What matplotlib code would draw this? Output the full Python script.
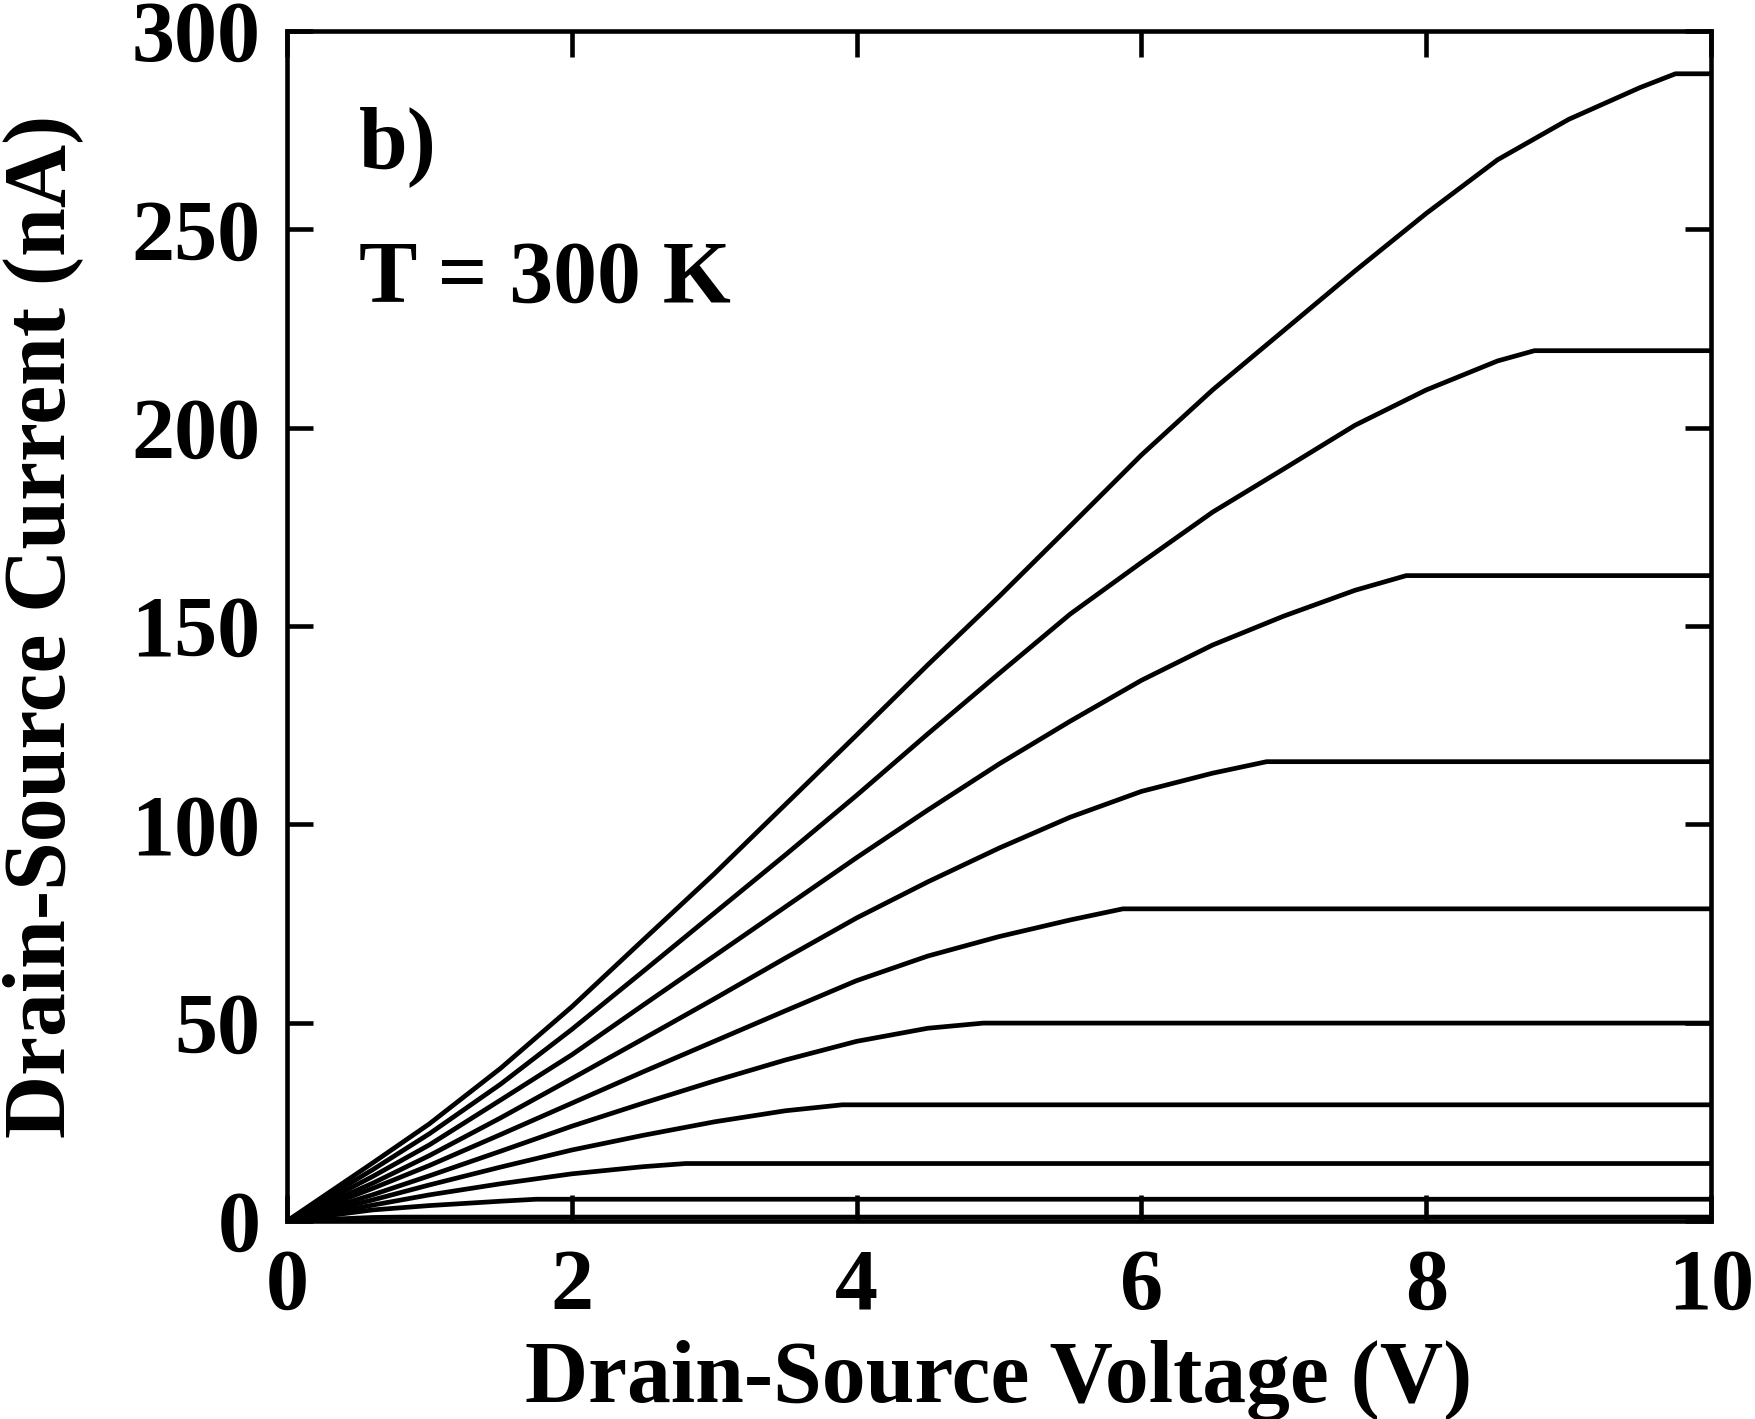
import matplotlib
matplotlib.use("Agg")
import matplotlib.pyplot as plt

# Times-like bold serif throughout
plt.rcParams['font.family'] = ['Liberation Serif', 'DejaVu Serif']
plt.rcParams['font.weight'] = 'bold'

# drain-source voltage grid (V) used below saturation
vds = [0, 0.6, 1.0, 1.5, 2.0, 2.5, 3.0, 3.5, 4.0, 4.5, 5.0, 5.5, 6.0, 6.5, 7.0, 7.5, 8.0, 8.5, 9.0, 9.5]

# drain-source current (nA) read on the grid, top curve first
ids_1 = [0, 14.6, 24.5, 38.5, 54.0, 70.8, 87.5, 105.0, 122.5, 140.2, 157.4, 175.2, 193.1, 209.5, 224.5, 239.5, 254.0, 267.5, 277.7, 285.7]
ids_2 = [0, 12.9, 22.0, 34.5, 48.3, 62.9, 77.6, 92.3, 107.3, 122.8, 138.0, 153.0, 166.0, 178.7, 189.6, 200.6, 209.5, 216.8]
ids_3 = [0, 11.2, 19.2, 30.5, 41.9, 54.4, 66.8, 79.2, 91.6, 103.6, 115.2, 126.0, 136.3, 145.2, 152.5, 159.0]
ids_4 = [0, 9.5, 16.5, 26.0, 35.9, 45.9, 56.0, 66.3, 76.4, 85.5, 94.0, 101.8, 108.3, 112.9]
ids_5 = [0, 8.2, 14.0, 21.8, 29.7, 37.6, 45.3, 53.0, 60.6, 66.8, 71.7, 75.9]
ids_6 = [0, 6.6, 11.4, 17.6, 23.9, 29.7, 35.3, 40.6, 45.3, 48.6]
ids_7 = [0, 5.3, 9.1, 13.6, 17.9, 21.6, 25.0, 27.8]
ids_8 = [0, 4.0, 6.6, 9.4, 11.9, 13.7]
ids_9 = [0, 2.8, 3.9, 5.0]
ids_10 = [0, 0.9]

# saturation knee of each curve (V, nA)
v_sat = [9.75, 8.76, 7.86, 6.88, 5.87, 4.89, 3.9, 2.8, 1.75, 0.8]
i_sat = [289.2, 219.4, 162.7, 115.8, 78.7, 49.9, 29.3, 14.5, 5.5, 1.0]

v_end = 10.0

fig = plt.figure(figsize=(17.56, 14.19), dpi=100)
ax = fig.add_axes([0.1634, 0.1395, 0.9744 - 0.1634, 0.9782 - 0.1395])

curves = [ids_1, ids_2, ids_3, ids_4, ids_5, ids_6, ids_7, ids_8, ids_9, ids_10]
for k, ids in enumerate(curves):
    x = vds[:len(ids)] + [v_sat[k], v_end]
    y = ids + [i_sat[k], i_sat[k]]
    ax.plot(x, y, color='black', lw=3.4, solid_joinstyle='round', solid_capstyle='butt')

ax.set_xlim(0, 10)
ax.set_ylim(0, 300)
ax.set_xticks([0, 2, 4, 6, 8, 10])
ax.set_yticks([0, 50, 100, 150, 200, 250, 300])

for s in ax.spines.values():
    s.set_linewidth(3.3)

ax.tick_params(direction='in', top=True, right=True, length=19, width=3.3,
               labelsize=62)
ax.tick_params(axis='x', pad=20)
ax.tick_params(axis='y', pad=19)

ax.set_xlabel('Drain-Source Voltage (V)', fontsize=63, fontweight='bold')
ax.set_ylabel('Drain-Source Current (nA)', fontsize=63, fontweight='bold')
ax.xaxis.set_label_coords(0.5, -0.100)
ax.yaxis.set_label_coords(-0.143, 0.5)

ax.text(0.0505, 0.885, 'b)', transform=ax.transAxes, fontsize=63,
        fontweight='bold', va='baseline', ha='left')
ax.text(0.0505, 0.7723, 'T = 300 K', transform=ax.transAxes, fontsize=63,
        fontweight='bold', va='baseline', ha='left')

fig.savefig('out.png', dpi=100)
